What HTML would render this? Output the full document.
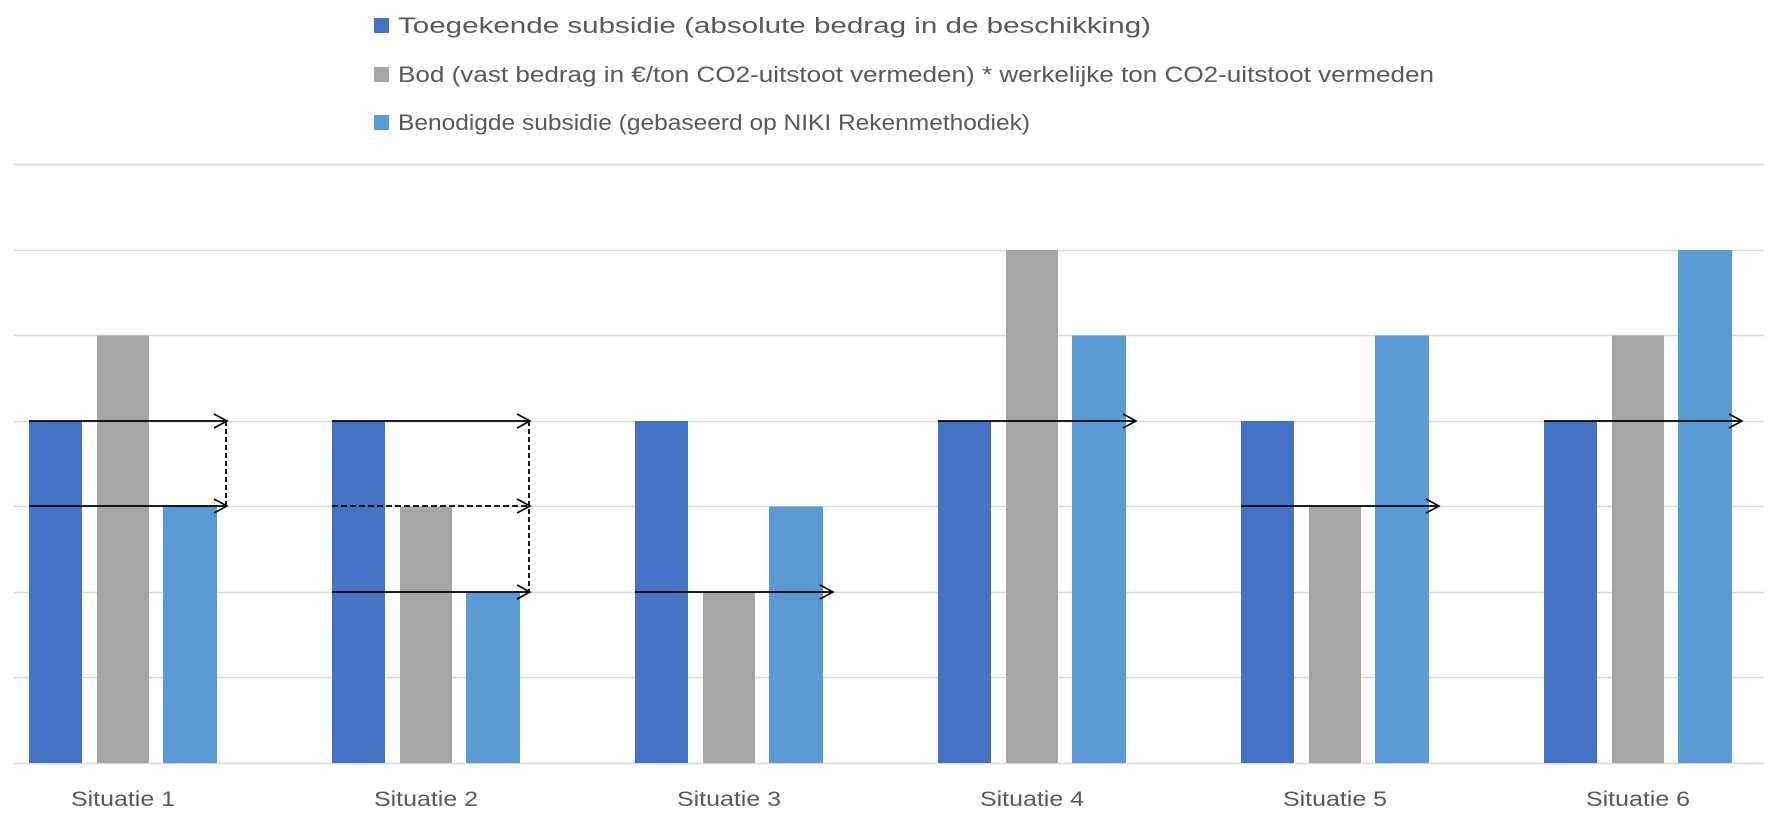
<!DOCTYPE html>
<html><head><meta charset="utf-8"><style>html,body{margin:0;padding:0;background:#fff}svg{display:block}</style></head><body>
<svg width="1772" height="820" viewBox="0 0 1772 820" xmlns="http://www.w3.org/2000/svg" font-family="Liberation Sans, sans-serif">
<defs>
<marker id="ah" markerWidth="16" markerHeight="16" refX="14" refY="8" orient="auto" markerUnits="userSpaceOnUse">
<path d="M1,1 L14,8 L1,15" fill="none" stroke="#000" stroke-width="1.6"/>
</marker>
</defs>
<rect x="374" y="18" width="15" height="15" fill="#4472C4"/>
<text x="398" y="33" font-size="22" fill="#595959" textLength="753" lengthAdjust="spacingAndGlyphs">Toegekende subsidie (absolute bedrag in de beschikking)</text>
<rect x="374" y="67" width="15" height="15" fill="#A5A5A5"/>
<text x="398" y="82" font-size="22" fill="#595959" textLength="1036" lengthAdjust="spacingAndGlyphs">Bod (vast bedrag in €/ton CO2-uitstoot vermeden) * werkelijke ton CO2-uitstoot vermeden</text>
<rect x="374" y="115" width="15" height="15" fill="#5B9BD5"/>
<text x="398" y="130" font-size="22" fill="#595959" textLength="632" lengthAdjust="spacingAndGlyphs">Benodigde subsidie (gebaseerd op NIKI Rekenmethodiek)</text>
<g stroke="#d9d9d9" stroke-width="1.5">
<line x1="14" x2="1764" y1="164.5" y2="164.5"/>
<line x1="14" x2="1764" y1="250.5" y2="250.5"/>
<line x1="14" x2="1764" y1="335.5" y2="335.5"/>
<line x1="14" x2="1764" y1="421.5" y2="421.5"/>
<line x1="14" x2="1764" y1="506.5" y2="506.5"/>
<line x1="14" x2="1764" y1="592.5" y2="592.5"/>
<line x1="14" x2="1764" y1="677.5" y2="677.5"/>
<line x1="14" x2="1764" y1="763.5" y2="763.5"/>
</g>
<g>
<rect x="29" y="421" width="53" height="342" fill="#4472C4"/>
<rect x="97" y="335.5" width="52" height="427.5" fill="#A5A5A5"/>
<rect x="163" y="506.5" width="54" height="256.5" fill="#5B9BD5"/>
<rect x="332" y="421" width="53" height="342" fill="#4472C4"/>
<rect x="400" y="506.5" width="52" height="256.5" fill="#A5A5A5"/>
<rect x="466" y="592" width="54" height="171" fill="#5B9BD5"/>
<rect x="635" y="421" width="53" height="342" fill="#4472C4"/>
<rect x="703" y="592" width="52" height="171" fill="#A5A5A5"/>
<rect x="769" y="506.5" width="54" height="256.5" fill="#5B9BD5"/>
<rect x="938" y="421" width="53" height="342" fill="#4472C4"/>
<rect x="1006" y="250" width="52" height="513" fill="#A5A5A5"/>
<rect x="1072" y="335.5" width="54" height="427.5" fill="#5B9BD5"/>
<rect x="1241" y="421" width="53" height="342" fill="#4472C4"/>
<rect x="1309" y="506.5" width="52" height="256.5" fill="#A5A5A5"/>
<rect x="1375" y="335.5" width="54" height="427.5" fill="#5B9BD5"/>
<rect x="1544" y="421" width="53" height="342" fill="#4472C4"/>
<rect x="1612" y="335.5" width="52" height="427.5" fill="#A5A5A5"/>
<rect x="1678" y="250" width="54" height="513" fill="#5B9BD5"/>
</g>
<g stroke="#000" stroke-width="1.8" fill="none">
<line x1="29" y1="421" x2="227" y2="421" marker-end="url(#ah)"/>
<line x1="29" y1="506" x2="227" y2="506" marker-end="url(#ah)"/>
<line x1="226" y1="421" x2="226" y2="506" stroke-dasharray="5,3"/>
<line x1="332" y1="421" x2="530" y2="421" marker-end="url(#ah)"/>
<line x1="332" y1="506" x2="530" y2="506" marker-end="url(#ah)" stroke-dasharray="6,3"/>
<line x1="332" y1="592" x2="530" y2="592" marker-end="url(#ah)"/>
<line x1="529" y1="421" x2="529" y2="592" stroke-dasharray="5,3"/>
<line x1="635" y1="592" x2="833" y2="592" marker-end="url(#ah)"/>
<line x1="938" y1="421" x2="1136" y2="421" marker-end="url(#ah)"/>
<line x1="1241" y1="506" x2="1439" y2="506" marker-end="url(#ah)"/>
<line x1="1544" y1="421" x2="1742" y2="421" marker-end="url(#ah)"/>
</g>
<g font-size="21" fill="#595959" text-anchor="middle">
<text x="123" y="806" textLength="104" lengthAdjust="spacingAndGlyphs">Situatie 1</text>
<text x="426" y="806" textLength="104" lengthAdjust="spacingAndGlyphs">Situatie 2</text>
<text x="729" y="806" textLength="104" lengthAdjust="spacingAndGlyphs">Situatie 3</text>
<text x="1032" y="806" textLength="104" lengthAdjust="spacingAndGlyphs">Situatie 4</text>
<text x="1335" y="806" textLength="104" lengthAdjust="spacingAndGlyphs">Situatie 5</text>
<text x="1638" y="806" textLength="104" lengthAdjust="spacingAndGlyphs">Situatie 6</text>
</g>
</svg>
</body></html>
